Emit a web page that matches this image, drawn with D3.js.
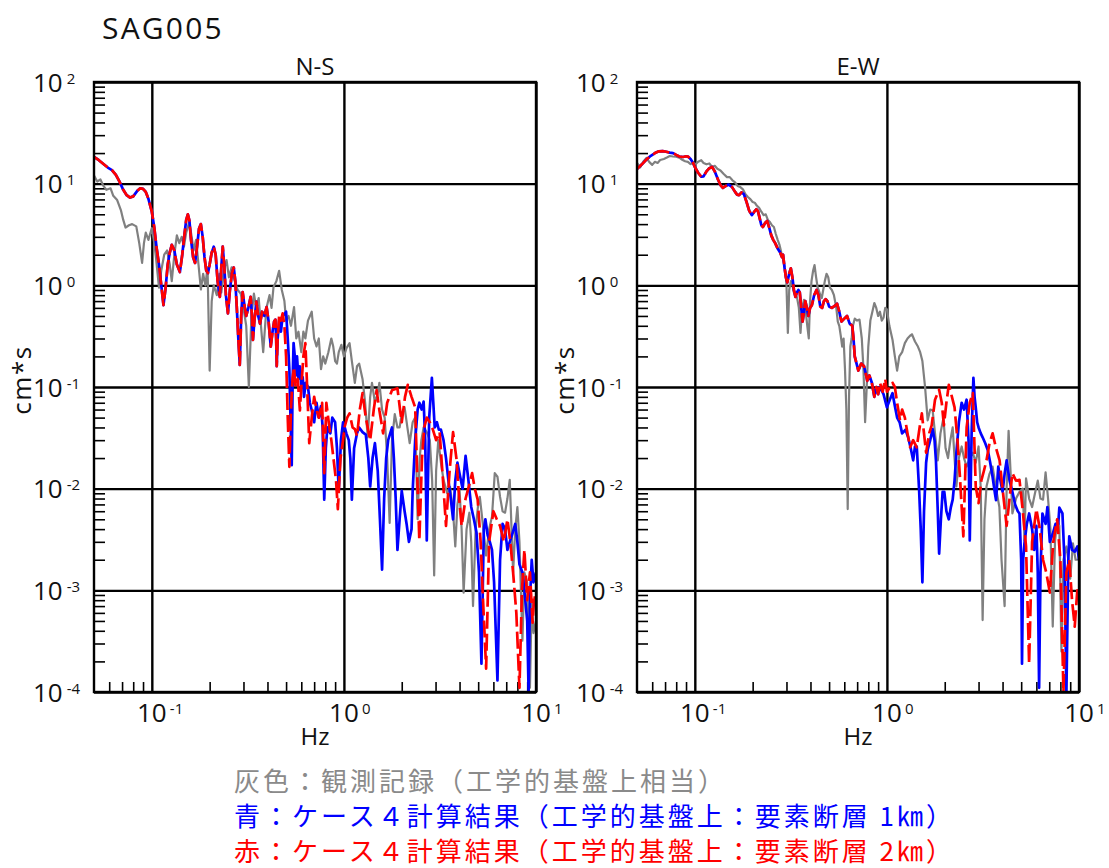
<!DOCTYPE html>
<html>
<head>
<meta charset="utf-8">
<script src="https://cdn.jsdelivr.net/npm/d3@7"></script>
<style>
  body { margin: 0; background: #fff; }
  svg { display: block; }
</style>
</head>
<body>
<svg id="chart" width="1109" height="868"></svg>
<script>
// Fourier amplitude spectra at station SAG005, two horizontal components.
const stationName = "SAG005";
const componentNames = ["N-S", "E-W"];
const xTickExponents = [-1, 0, 1];
const yTickExponents = [-4, -3, -2, -1, 0, 1, 2];
const xAxisTitle = "Hz";
const yAxisTitle = "cm*s";
const legendLines = [
  "灰色：観測記録（工学的基盤上相当）",
  "青：ケース４計算結果（工学的基盤上：要素断層 1㎞）",
  "赤：ケース４計算結果（工学的基盤上：要素断層 2㎞）"
];

// ---- N-S component: [frequency (Hz), amplitude (cm*s)] ----
const nsObserved = [
  [0.050,12.0],[0.052,10.5],[0.054,11.0],[0.056,9.5],[0.058,8.7],[0.061,9.0],[0.063,7.6],[0.066,6.9],
  [0.069,5.5],[0.071,4.4],[0.073,3.7],[0.076,3.9],[0.079,4.0],[0.083,3.8],[0.086,2.6],[0.089,1.66],
  [0.091,2.6],[0.093,3.3],[0.096,2.8],[0.100,3.65],[0.103,2.6],[0.105,1.9],[0.109,0.95],[0.112,1.4],
  [0.116,2.0],[0.120,2.2],[0.124,1.6],[0.127,1.1],[0.131,2.0],[0.135,3.1],[0.139,2.6],[0.143,3.0],
  [0.147,2.4],[0.151,3.3],[0.156,4.1],[0.160,3.3],[0.165,2.2],[0.170,2.8],[0.175,1.6],[0.180,0.91],
  [0.185,1.3],[0.190,1.0],[0.195,1.5],[0.200,0.145],[0.205,0.7],[0.210,1.0],[0.218,0.8],[0.225,1.3],
  [0.230,0.85],[0.237,1.4],[0.245,1.77],[0.252,1.2],[0.260,1.5],[0.270,1.1],[0.280,0.9],[0.290,0.83],
  [0.300,0.6],[0.310,0.4],[0.320,0.1],[0.330,0.5],[0.340,0.83],[0.350,0.6],[0.360,0.75],[0.370,0.4],
  [0.380,0.22],[0.395,0.6],[0.410,0.8],[0.420,0.6],[0.430,0.96],[0.445,1.1],[0.460,1.39],[0.475,0.9],
  [0.490,0.7],[0.500,0.45],[0.515,0.5],[0.530,0.4],[0.550,0.61],[0.565,0.3],[0.580,0.35],[0.600,0.22],
  [0.615,0.35],[0.630,0.3],[0.650,0.45],[0.680,0.55],[0.700,0.3],[0.720,0.25],[0.740,0.3],[0.760,0.15],
  [0.780,0.2],[0.800,0.17],[0.830,0.22],[0.860,0.3],[0.880,0.25],[0.900,0.18],[0.920,0.17],[0.940,0.22],
  [0.970,0.26],[1.00,0.2],[1.03,0.24],[1.07,0.27],[1.10,0.18],[1.14,0.11],[1.17,0.16],[1.20,0.17],
  [1.25,0.12],[1.29,0.07],[1.33,0.032],[1.37,0.08],[1.40,0.11],[1.45,0.07],[1.50,0.087],[1.53,0.11],
  [1.58,0.06],[1.63,0.05],[1.68,0.02],[1.73,0.0046],[1.78,0.03],[1.84,0.054],[1.90,0.04],[1.95,0.04],
  [2.00,0.055],[2.07,0.063],[2.14,0.04],[2.20,0.028],[2.28,0.045],[2.35,0.05],[2.42,0.005],[2.48,0.02],
  [2.53,0.03],[2.60,0.04],[2.70,0.036],[2.80,0.03],[2.88,0.012],[2.95,0.0014],[3.02,0.015],[3.10,0.03],
  [3.20,0.018],[3.30,0.0122],[3.45,0.009],[3.57,0.0104],[3.70,0.006],[3.80,0.0027],[3.90,0.007],[4.00,0.0097],
  [4.10,0.004],[4.20,0.00095],[4.35,0.004],[4.50,0.0058],[4.60,0.003],[4.70,0.0007],[4.85,0.004],[5.00,0.007],
  [5.10,0.0083],[5.30,0.0043],[5.50,0.0022],[5.70,0.004],[5.90,0.0053],[6.10,0.0142],[6.30,0.0131],[6.50,0.0083],
  [6.70,0.006],[6.90,0.0058],[7.10,0.008],[7.30,0.0122],[7.50,0.003],[7.60,0.0015],[7.80,0.004],[8.00,0.0066],
  [8.20,0.003],[8.50,0.00032],[8.70,0.0015],[9.00,0.0012],[9.30,0.00011],[9.50,0.0008],[9.70,0.00038],[10.0,0.0005]
];

// Case 4 runs agree below about 0.45 Hz
const nsCase4Common = [
  [0.050,18.3],[0.053,17.0],[0.056,15.6],[0.059,14.4],[0.062,13.6],[0.065,12.2],[0.068,10.4],[0.071,8.7],
  [0.074,7.7],[0.077,7.3],[0.080,7.5],[0.084,8.5],[0.087,9.0],[0.090,8.9],[0.093,8.3],[0.096,7.1],
  [0.100,5.3],[0.103,3.7],[0.106,2.3],[0.109,1.6],[0.112,1.0],[0.115,0.64],[0.118,0.95],[0.121,1.6],
  [0.124,2.1],[0.127,2.5],[0.131,2.2],[0.135,1.6],[0.140,1.35],[0.144,2.0],[0.148,3.2],[0.151,4.4],
  [0.154,5.0],[0.157,4.3],[0.160,2.8],[0.164,1.9],[0.168,1.66],[0.172,2.4],[0.176,3.6],[0.180,4.0],
  [0.184,3.0],[0.188,1.9],[0.192,1.4],[0.196,1.32],[0.200,1.6],[0.205,2.1],[0.210,2.4],[0.215,2.0],
  [0.220,1.1],[0.226,0.77],[0.230,1.5],[0.234,2.4],[0.238,1.6],[0.243,0.8],[0.249,0.53],[0.255,0.9],
  [0.261,1.3],[0.267,1.5],[0.272,1.1],[0.277,0.6],[0.282,0.3],[0.287,0.165],[0.292,0.5],[0.297,0.86],
  [0.303,0.65],[0.310,0.5],[0.318,0.6],[0.327,0.77],[0.332,0.5],[0.336,0.29],[0.342,0.45],[0.350,0.69],
  [0.358,0.5],[0.366,0.42],[0.375,0.55],[0.385,0.5],[0.396,0.61],[0.405,0.45],[0.416,0.25],[0.425,0.35],
  [0.433,0.44],[0.440,0.46],[0.444,0.3],[0.447,0.16]
];
const nsCase4Fault1km = nsCase4Common.concat([
  [0.452,0.3],[0.460,0.45],[0.470,0.35],[0.480,0.5],[0.490,0.52],[0.500,0.55],[0.510,0.3],[0.520,0.15],
  [0.527,0.05],[0.535,0.017],[0.541,0.12],[0.547,0.27],[0.555,0.2],[0.562,0.13],[0.570,0.2],[0.580,0.12],
  [0.590,0.16],[0.600,0.1],[0.610,0.125],[0.620,0.08],[0.632,0.11],[0.650,0.1],[0.665,0.07],[0.680,0.059],
  [0.700,0.045],[0.720,0.07],[0.740,0.05],[0.760,0.065],[0.775,0.04],[0.790,0.0078],[0.805,0.025],[0.820,0.04],
  [0.850,0.035],[0.870,0.05],[0.900,0.045],[0.920,0.025],[0.940,0.0095],[0.965,0.03],[0.990,0.045],[1.010,0.04],
  [1.030,0.035],[1.060,0.03],[1.080,0.02],[1.100,0.0078],[1.130,0.025],[1.170,0.035],[1.200,0.04],[1.250,0.036],
  [1.300,0.034],[1.340,0.02],[1.370,0.0105],[1.410,0.02],[1.450,0.028],[1.500,0.015],[1.540,0.005],[1.580,0.0016],
  [1.620,0.008],[1.660,0.02],[1.700,0.03],[1.780,0.04],[1.820,0.02],[1.860,0.008],[1.900,0.0025],[1.950,0.005],
  [2.000,0.0095],[2.070,0.006],[2.120,0.0045],[2.180,0.003],[2.250,0.004],[2.280,0.0095],[2.350,0.03],[2.420,0.06],
  [2.470,0.07],[2.540,0.06],[2.600,0.072],[2.650,0.03],[2.700,0.0031],[2.780,0.05],[2.870,0.123],[2.920,0.07],
  [2.970,0.04],[3.050,0.045],[3.120,0.038],[3.200,0.038],[3.300,0.03],[3.400,0.02],[3.500,0.012],[3.600,0.008],
  [3.700,0.005],[3.800,0.012],[3.900,0.018],[4.000,0.014],[4.150,0.01],[4.300,0.021],[4.450,0.012],[4.600,0.0066],
  [4.750,0.005],[4.900,0.0037],[5.050,0.0015],[5.200,0.00019],[5.350,0.004],[5.450,0.005],[5.600,0.0035],[5.750,0.003],
  [5.900,0.0025],[6.050,0.0012],[6.300,0.00013],[6.500,0.002],[6.700,0.0045],[6.900,0.004],[7.100,0.0025],[7.300,0.003],
  [7.500,0.0035],[7.800,0.0045],[8.000,0.003],[8.200,0.0018],[8.500,0.0015],[8.700,0.001],[9.000,0.0005],[9.150,0.0001],
  [9.300,0.0008],[9.500,0.002],[9.700,0.0012],[10.0,0.0015]
]);
const nsCase4Fault2km = nsCase4Common.concat([
  [0.452,0.3],[0.460,0.5],[0.470,0.45],[0.480,0.53],[0.490,0.4],[0.500,0.2],[0.510,0.05],[0.520,0.0164],
  [0.530,0.06],[0.540,0.12],[0.550,0.157],[0.560,0.1],[0.575,0.12],[0.590,0.059],[0.600,0.1],[0.615,0.2],
  [0.630,0.27],[0.645,0.09],[0.660,0.028],[0.680,0.05],[0.700,0.08],[0.720,0.06],[0.740,0.05],[0.770,0.07],
  [0.790,0.0142],[0.810,0.07],[0.840,0.04],[0.860,0.03],[0.880,0.0207],[0.910,0.012],[0.930,0.0063],[0.960,0.02],
  [0.990,0.03],[1.010,0.041],[1.040,0.05],[1.070,0.055],[1.110,0.04],[1.140,0.0385],[1.170,0.033],[1.210,0.06],
  [1.250,0.087],[1.300,0.05],[1.370,0.03],[1.430,0.06],[1.480,0.093],[1.530,0.059],[1.600,0.035],[1.680,0.07],
  [1.780,0.093],[1.900,0.097],[1.960,0.06],[2.000,0.045],[2.080,0.08],[2.150,0.105],[2.250,0.08],[2.350,0.063],
  [2.420,0.01],[2.470,0.0031],[2.550,0.02],[2.620,0.04],[2.700,0.05],[2.800,0.045],[2.900,0.0385],[3.020,0.03],
  [3.150,0.036],[3.280,0.012],[3.400,0.0043],[3.550,0.015],[3.700,0.036],[3.850,0.02],[3.980,0.008],[4.100,0.0043],
  [4.300,0.008],[4.500,0.011],[4.650,0.0142],[4.800,0.01],[4.970,0.0078],[5.150,0.003],[5.300,0.0008],[5.500,0.00017],
  [5.700,0.003],[6.000,0.006],[6.250,0.005],[6.500,0.0043],[6.800,0.003],[7.100,0.005],[7.350,0.003],[7.600,0.0015],
  [7.900,0.0006],[8.200,0.00011],[8.450,0.001],[8.700,0.0025],[9.000,0.0008],[9.300,0.0015],[9.600,0.00048],[9.800,0.0009],
  [10.0,0.0007]
]);

// ---- E-W component ----
const ewObserved = [
  [0.050,16.0],[0.052,14.5],[0.054,16.5],[0.056,17.9],[0.058,16.3],[0.060,15.3],[0.062,16.4],[0.064,16.0],
  [0.066,17.1],[0.069,17.5],[0.072,18.2],[0.074,18.7],[0.077,18.5],[0.080,18.4],[0.083,18.0],[0.086,17.2],
  [0.089,16.6],[0.092,16.4],[0.095,15.6],[0.098,16.0],[0.101,15.5],[0.104,16.4],[0.108,17.0],[0.111,16.0],
  [0.115,15.5],[0.119,15.8],[0.123,14.6],[0.127,15.0],[0.131,14.0],[0.136,13.5],[0.141,12.5],[0.147,11.6],
  [0.152,11.6],[0.157,10.8],[0.162,10.3],[0.167,9.5],[0.172,9.3],[0.178,8.8],[0.184,7.8],[0.189,7.4],
  [0.195,7.0],[0.200,6.6],[0.205,6.5],[0.210,6.1],[0.216,5.8],[0.222,5.3],[0.228,4.9],[0.234,5.0],
  [0.240,4.4],[0.246,4.2],[0.252,3.9],[0.258,3.75],[0.264,3.2],[0.270,2.8],[0.276,2.5],[0.282,2.1],
  [0.287,1.85],[0.292,1.6],[0.297,1.3],[0.300,1.0],[0.305,0.34],[0.310,0.9],[0.316,1.1],[0.322,1.0],
  [0.328,0.85],[0.334,0.8],[0.340,0.77],[0.348,0.6],[0.355,0.34],[0.362,0.6],[0.370,0.72],[0.378,0.55],
  [0.385,0.4],[0.392,0.3],[0.398,0.7],[0.405,1.1],[0.413,1.4],[0.420,1.58],[0.428,1.2],[0.436,0.95],
  [0.443,0.88],[0.450,0.8],[0.458,0.75],[0.466,0.9],[0.475,1.1],[0.485,1.3],[0.495,1.2],[0.505,0.95],
  [0.517,0.9],[0.530,0.8],[0.545,0.6],[0.555,0.44],[0.565,0.4],[0.575,0.32],[0.585,0.25],[0.595,0.3],
  [0.605,0.15],[0.615,0.06],[0.625,0.0063],[0.635,0.08],[0.645,0.25],[0.655,0.3],[0.665,0.4],[0.680,0.47],
  [0.700,0.45],[0.720,0.46],[0.740,0.3],[0.755,0.15],[0.770,0.045],[0.785,0.1],[0.800,0.25],[0.820,0.45],
  [0.840,0.55],[0.860,0.67],[0.880,0.6],[0.900,0.5],[0.920,0.55],[0.940,0.45],[0.960,0.48],[0.980,0.6],
  [1.000,0.58],[1.030,0.4],[1.070,0.29],[1.100,0.2],[1.130,0.145],[1.160,0.2],[1.200,0.22],[1.240,0.27],
  [1.280,0.3],[1.320,0.32],[1.350,0.33],[1.400,0.28],[1.450,0.25],[1.490,0.22],[1.530,0.18],[1.580,0.1],
  [1.630,0.047],[1.680,0.06],[1.730,0.059],[1.780,0.035],[1.840,0.019],[1.900,0.035],[1.970,0.05],[2.020,0.025],
  [2.080,0.02],[2.140,0.03],[2.200,0.04],[2.250,0.02],[2.300,0.0105],[2.370,0.02],[2.450,0.026],[2.520,0.02],
  [2.600,0.0165],[2.700,0.02],[2.800,0.0226],[2.900,0.018],[3.000,0.026],[3.080,0.01],[3.150,0.00051],[3.220,0.005],
  [3.300,0.0105],[3.420,0.014],[3.550,0.0165],[3.700,0.01],[3.850,0.0066],[3.950,0.002],[4.100,0.0007],[4.200,0.01],
  [4.300,0.037],[4.400,0.015],[4.500,0.0057],[4.700,0.008],[4.900,0.0093],[5.100,0.01],[5.200,0.0031],[5.300,0.0126],
  [5.500,0.008],[5.700,0.0066],[5.900,0.009],[6.100,0.012],[6.300,0.008],[6.500,0.0078],[6.700,0.0145],[6.900,0.008],
  [7.100,0.004],[7.300,0.00044],[7.500,0.003],[7.700,0.005],[7.900,0.0043],[8.100,0.00025],[8.300,0.002],[8.600,0.0027],
  [8.800,0.002],[9.000,0.0013],[9.300,0.0029],[9.600,0.002],[10.0,0.002]
];

const ewCase4Common = [
  [0.050,13.9],[0.053,15.5],[0.056,17.3],[0.059,18.8],[0.062,20.0],[0.065,20.8],[0.068,20.9],[0.071,20.6],
  [0.074,20.2],[0.077,20.0],[0.080,19.2],[0.083,18.5],[0.087,18.3],[0.090,18.6],[0.092,18.5],[0.095,17.5],
  [0.098,16.0],[0.100,14.6],[0.104,12.8],[0.108,11.7],[0.111,11.8],[0.115,13.2],[0.119,14.2],[0.123,14.6],
  [0.127,13.2],[0.132,11.0],[0.136,9.7],[0.140,9.1],[0.145,9.5],[0.150,9.8],[0.156,9.3],[0.162,8.3],
  [0.166,7.8],[0.170,7.7],[0.175,8.2],[0.180,7.9],[0.186,6.6],[0.192,5.4],[0.198,4.9],[0.204,5.3],
  [0.209,5.6],[0.213,5.4],[0.218,4.5],[0.222,3.9],[0.226,3.75],[0.232,4.1],[0.238,4.3],[0.244,3.7],
  [0.250,3.1],[0.256,2.8],[0.262,2.6],[0.270,2.3],[0.278,2.1],[0.284,1.9],[0.288,2.0],[0.293,1.5],
  [0.298,1.2],[0.303,1.07],[0.310,1.3],[0.316,1.47],[0.322,1.2],[0.328,0.9],[0.334,0.77],[0.340,0.85],
  [0.346,0.9],[0.352,0.85],[0.358,0.6],[0.364,0.44],[0.370,0.55],[0.376,0.7],[0.383,0.6],[0.390,0.5],
  [0.398,0.6],[0.407,0.64],[0.418,0.8],[0.430,0.9],[0.440,0.8],[0.450,0.62],[0.460,0.6],[0.470,0.7],
  [0.480,0.73],[0.490,0.7],[0.500,0.62],[0.517,0.6],[0.530,0.62],[0.550,0.66],[0.565,0.55],[0.580,0.44],
  [0.600,0.47],[0.620,0.5],[0.640,0.42],[0.660,0.4],[0.670,0.3],[0.680,0.2],[0.695,0.17],[0.710,0.145],
  [0.735,0.17],[0.760,0.16],[0.780,0.13],[0.790,0.115],[0.810,0.13],[0.835,0.11],[0.860,0.08],[0.880,0.1],
  [0.900,0.085]
];
const ewCase4Fault1km = ewCase4Common.concat([
  [0.920,0.1],[0.960,0.085],[1.000,0.063],[1.035,0.075],[1.070,0.087],[1.100,0.065],[1.130,0.05],[1.165,0.045],
  [1.200,0.035],[1.250,0.038],[1.290,0.032],[1.330,0.025],[1.370,0.019],[1.400,0.026],[1.430,0.026],[1.470,0.01],
  [1.500,0.004],[1.530,0.0012],[1.560,0.006],[1.600,0.018],[1.630,0.024],[1.680,0.03],[1.730,0.0385],[1.770,0.03],
  [1.800,0.019],[1.840,0.006],[1.870,0.0023],[1.910,0.005],[1.950,0.0093],[1.990,0.0093],[2.040,0.006],[2.100,0.005],
  [2.150,0.0065],[2.200,0.0078],[2.250,0.012],[2.300,0.0226],[2.370,0.045],[2.450,0.07],[2.520,0.06],[2.600,0.075],
  [2.660,0.03],[2.700,0.0031],[2.760,0.035],[2.820,0.123],[2.860,0.08],[2.900,0.063],[2.950,0.045],[3.000,0.04],
  [3.080,0.035],[3.150,0.032],[3.250,0.028],[3.350,0.024],[3.450,0.018],[3.550,0.013],[3.650,0.009],[3.700,0.0077],
  [3.800,0.0165],[3.900,0.012],[4.000,0.0093],[4.100,0.014],[4.200,0.019],[4.350,0.012],[4.500,0.0093],[4.650,0.007],
  [4.800,0.006],[4.900,0.0057],[5.000,0.002],[5.050,0.00019],[5.120,0.002],[5.200,0.0029],[5.350,0.0045],[5.500,0.0057],
  [5.700,0.004],[5.850,0.0025],[6.000,0.0043],[6.100,0.0015],[6.200,0.00011],[6.300,0.0015],[6.450,0.0057],[6.700,0.0045],
  [6.850,0.0066],[7.050,0.003],[7.300,0.0036],[7.550,0.0045],[7.800,0.0045],[7.900,0.0065],[8.200,0.0057],[8.400,0.002],
  [8.600,0.0001],[8.800,0.002],[8.900,0.0034],[9.200,0.0025],[9.500,0.0024],[9.800,0.0027],[10.0,0.002]
]);
const ewCase4Fault2km = ewCase4Common.concat([
  [0.920,0.11],[0.950,0.09],[0.980,0.12],[1.000,0.09],[1.040,0.1],[1.070,0.11],[1.100,0.1],[1.130,0.07],
  [1.170,0.047],[1.200,0.06],[1.240,0.05],[1.280,0.035],[1.320,0.0255],[1.370,0.03],[1.430,0.0255],[1.480,0.04],
  [1.520,0.055],[1.560,0.035],[1.600,0.0226],[1.660,0.035],[1.710,0.042],[1.780,0.075],[1.870,0.094],[1.930,0.07],
  [1.980,0.042],[2.040,0.07],[2.100,0.105],[2.180,0.08],[2.250,0.063],[2.330,0.03],[2.400,0.013],[2.500,0.0034],
  [2.560,0.015],[2.600,0.04],[2.700,0.07],[2.800,0.087],[2.850,0.03],[2.900,0.0105],[3.000,0.0072],[3.100,0.012],
  [3.200,0.015],[3.300,0.019],[3.420,0.028],[3.550,0.035],[3.700,0.025],[3.860,0.019],[4.000,0.01],[4.200,0.0043],
  [4.350,0.008],[4.500,0.0142],[4.700,0.012],[4.900,0.0122],[5.100,0.006],[5.300,0.0027],[5.500,0.00019],[5.700,0.003],
  [6.000,0.0063],[6.250,0.004],[6.500,0.002],[6.750,0.0015],[7.050,0.00095],[7.350,0.003],[7.700,0.005],[8.000,0.002],
  [8.300,0.0001],[8.600,0.0015],[8.900,0.002],[9.200,0.0008],[9.500,0.00044],[9.800,0.001],[10.0,0.0009]
]);

const panels = [
  { name: componentNames[0], observed: nsObserved, fault1km: nsCase4Fault1km, fault2km: nsCase4Fault2km, left: 94,  right: 536 },
  { name: componentNames[1], observed: ewObserved, fault1km: ewCase4Fault1km, fault2km: ewCase4Fault2km, left: 637, right: 1079 }
];

const plotTop = 82, plotBottom = 692;
const fontLatin = "'Open Sans', 'DejaVu Sans', sans-serif";
const fontCJK = "'Noto Sans CJK JP', 'Noto Sans', sans-serif";

const svg = d3.select("#chart");

svg.append("text")
  .attr("x", 102).attr("y", 39)
  .attr("font-family", fontLatin).attr("font-size", 30)
  .attr("letter-spacing", 2.2)
  .attr("fill", "#111")
  .text(stationName);

const minorX = [];
[0.01, 0.1, 1].forEach(base => { for (let k = 2; k <= 9; k++) { const v = +(base * k).toPrecision(3); if (v > 0.05 && v < 10) minorX.push(v); } });
const minorY = [];
[1e-4, 1e-3, 1e-2, 1e-1, 1, 10].forEach(base => { for (let k = 2; k <= 9; k++) minorY.push(+(base * k).toPrecision(3)); });

panels.forEach((p, i) => {
  const x = d3.scaleLog().domain([0.05, 10]).range([p.left, p.right]);
  const y = d3.scaleLog().domain([1e-4, 1e2]).range([plotBottom, plotTop]);
  const g = svg.append("g");
  const width = p.right - p.left, height = plotBottom - plotTop;

  const clipId = "clip" + i;
  g.append("clipPath").attr("id", clipId)
    .append("rect").attr("x", p.left).attr("y", plotTop).attr("width", width).attr("height", height);

  // decade grid lines
  g.append("g").attr("transform", `translate(0,${plotBottom})`)
    .call(d3.axisBottom(x).tickValues(xTickExponents.map(e => Math.pow(10, e))).tickSize(-height).tickFormat(""))
    .call(a => a.select(".domain").remove())
    .call(a => a.selectAll("line").attr("stroke", "#000").attr("stroke-width", 2.4));
  g.append("g").attr("transform", `translate(${p.left},0)`)
    .call(d3.axisLeft(y).tickValues(yTickExponents.map(e => Math.pow(10, e))).tickSize(-width).tickFormat(""))
    .call(a => a.select(".domain").remove())
    .call(a => a.selectAll("line").attr("stroke", "#000").attr("stroke-width", 2.4));

  // minor ticks, pointing into the plot
  g.append("g").attr("transform", `translate(0,${plotBottom})`)
    .call(d3.axisBottom(x).tickValues(minorX).tickSize(-10).tickFormat(""))
    .call(a => a.select(".domain").remove())
    .call(a => a.selectAll("line").attr("stroke", "#000").attr("stroke-width", 1.6));
  g.append("g").attr("transform", `translate(${p.left},0)`)
    .call(d3.axisLeft(y).tickValues(minorY).tickSize(-11).tickFormat(""))
    .call(a => a.select(".domain").remove())
    .call(a => a.selectAll("line").attr("stroke", "#000").attr("stroke-width", 1.6));

  // spectra
  const line = d3.line().x(d => x(d[0])).y(d => y(d[1]));
  const curves = g.append("g").attr("clip-path", `url(#${clipId})`).attr("fill", "none")
    .attr("stroke-linejoin", "round");
  curves.append("path").datum(p.observed).attr("d", line)
    .attr("stroke", "#808080").attr("stroke-width", 2.2);
  curves.append("path").datum(p.fault1km).attr("d", line)
    .attr("stroke", "#0000ff").attr("stroke-width", 2.7);
  curves.append("path").datum(p.fault2km).attr("d", line)
    .attr("stroke", "#ff0000").attr("stroke-width", 2.7).attr("stroke-dasharray", "17,5");

  // frame
  g.append("rect").attr("x", p.left).attr("y", plotTop).attr("width", width).attr("height", height)
    .attr("fill", "none").attr("stroke", "#000").attr("stroke-width", 2.4);

  // component name
  g.append("text").attr("x", (p.left + p.right) / 2).attr("y", 75)
    .attr("text-anchor", "middle").attr("font-family", fontLatin).attr("font-size", 24)
    .attr("fill", "#111").text(p.name);

  // y tick labels: 10 with superscript exponent
  yTickExponents.forEach(e => {
    const gy = y(Math.pow(10, e));
    const t = g.append("text").attr("x", p.left - 61).attr("y", gy + 9.5)
      .attr("font-family", fontLatin).attr("fill", "#111");
    t.append("tspan").attr("font-size", 26).text("10");
    t.append("tspan").attr("font-size", 15).attr("dx", 4).attr("dy", -8).text(String(e));
  });

  // x tick labels
  xTickExponents.forEach(e => {
    const gx = x(Math.pow(10, e));
    g.append("text").attr("x", gx).attr("y", 722).attr("text-anchor", "middle")
      .attr("font-family", fontLatin).attr("font-size", 26).attr("fill", "#111").text("10");
    g.append("text").attr("x", gx + 18).attr("y", 714)
      .attr("font-family", fontLatin).attr("font-size", 15).attr("fill", "#111").text(String(e));
  });

  // axis titles
  g.append("text").attr("x", (p.left + p.right) / 2).attr("y", 745).attr("text-anchor", "middle")
    .attr("font-family", fontLatin).attr("font-size", 24).attr("fill", "#111").text(xAxisTitle);
  g.append("text").attr("transform", `translate(${p.left - 63},380) rotate(-90)`)
    .attr("text-anchor", "middle").attr("font-family", fontLatin).attr("font-size", 26)
    .attr("letter-spacing", 1.5)
    .attr("fill", "#111").text(yAxisTitle);
});

// legend
const legendColors = ["#8a8a8a", "#0000ff", "#ff0000"];
const legendBaselines = [791, 826, 861];
legendLines.forEach((s, i) => {
  svg.append("text").attr("x", 234).attr("y", legendBaselines[i])
    .attr("font-family", fontCJK).attr("font-size", 26)
    .attr("letter-spacing", 3)
    .attr("fill", legendColors[i]).text(s);
});
</script>
</body>
</html>
